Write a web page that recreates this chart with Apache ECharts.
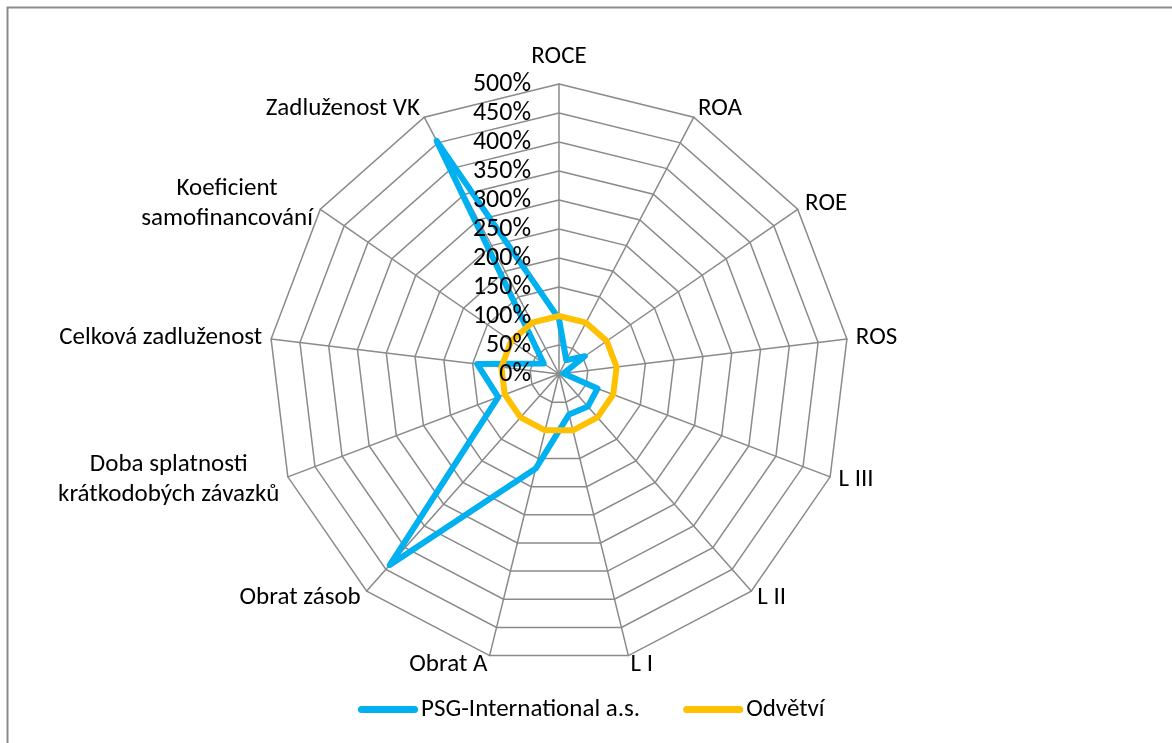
<!DOCTYPE html>
<html>
<head>
<meta charset="utf-8">
<script src="https://cdn.jsdelivr.net/npm/echarts@6/dist/echarts.min.js"></script>
<style>
  html, body { margin: 0; padding: 0; background: #ffffff; }
  #chart { width: 1172px; height: 743px; }
</style>
</head>
<body>
<div id="chart"></div>
<script>
// Financial ratio profile: company vs. industry (values in %)
const indicators = [
  'ROCE', 'ROA', 'ROE', 'ROS', 'L III', 'L II', 'L I', 'Obrat A', 'Obrat zásob',
  'Doba splatnosti\nkrátkodobých závazků', 'Celková zadluženost',
  'Koeficient\nsamofinancování', 'Zadluženost VK'
];
const psgValues = [95, 27, 54, 8, 71, 75, 72, 168, 440, 112, 142, 32, 454];
const industryValues = [100, 100, 100, 100, 100, 100, 100, 100, 100, 100, 100, 100, 100];
const seriesNames = ['PSG-International a.s.', 'Odvětví'];
const axisMin = 0;
const axisMax = 500;
const axisStep = 50;

const FONT = 'Carlito, "Open Sans", Lato, sans-serif';
const FS = 25;
const GRID = '#8a8a8a';
const CENTER = [559, 374];
const RADIUS = 290;

// ECharts lays radar indicators out counter-clockwise; walk the list
// backwards (keeping the first one on top) so it reads clockwise.
const order = [0];
for (let i = indicators.length - 1; i > 0; i--) order.push(i);
const pick = arr => order.map(i => arr[i]);

const chart = echarts.init(document.getElementById('chart'), null, { renderer: 'canvas' });

chart.setOption({
  backgroundColor: '#ffffff',
  animation: false,
  graphic: [{
    type: 'rect',
    shape: { x: 7.5, y: 7.5, width: 1300, height: 900 },
    style: { fill: 'none', stroke: '#8c8c8c', lineWidth: 2 },
    silent: true
  }],
  legend: {
    data: seriesNames,
    left: 353,
    top: 692,
    itemWidth: 60,
    itemHeight: 7,
    itemGap: 43,
    icon: 'path://M3.5,0 H56.5 A3.5,3.5 0 0 1 56.5,7 H3.5 A3.5,3.5 0 0 1 3.5,0 Z',
    textStyle: { fontFamily: FONT, fontSize: FS, color: '#000000', padding: [0, 0, 0, -2] }
  },
  radar: {
    center: CENTER,
    radius: RADIUS,
    startAngle: 90,
    shape: 'polygon',
    splitNumber: (axisMax - axisMin) / axisStep,
    indicator: pick(indicators).map(name => ({ name: name, min: axisMin, max: axisMax })),
    axisName: {
      color: '#000000',
      fontFamily: FONT,
      fontSize: FS,
      lineHeight: 30,
      formatter: function (value) {
        if (value === 'ROCE') return '{top|' + value + '}';
        return value.split('\n').map(s => '{c|' + s + '}').join('\n');
      },
      rich: {
        c: { align: 'center', fontFamily: FONT, fontSize: FS, lineHeight: 30, color: '#000000' },
        top: { fontFamily: FONT, fontSize: FS, lineHeight: 30, color: '#000000', padding: [0, 0, 6, 0] }
      }
    },
    nameGap: 9,
    axisLine: { lineStyle: { color: GRID, width: 1.5 } },
    splitLine: { lineStyle: { color: GRID, width: 1.5 } },
    splitArea: { show: false },
    axisTick: { show: false },
    axisLabel: { show: false }
  },
  // Percent scale shown along the top axis
  polar: { center: CENTER, radius: RADIUS },
  angleAxis: { type: 'value', min: 0, max: 360, startAngle: 90, show: false },
  radiusAxis: {
    type: 'value',
    min: axisMin,
    max: axisMax,
    interval: axisStep,
    z: 20,
    axisLine: { show: false },
    axisTick: { show: false },
    splitLine: { show: false },
    axisLabel: {
      margin: 28,
      fontFamily: FONT,
      fontSize: 26,
      color: '#000000',
      formatter: '{value}%'
    }
  },
  series: [{
    type: 'radar',
    symbol: 'none',
    data: [
      {
        name: seriesNames[0],
        value: pick(psgValues),
        lineStyle: { color: '#00b0f0', width: 6, cap: 'round', join: 'round' },
        itemStyle: { color: '#00b0f0' }
      },
      {
        name: seriesNames[1],
        value: pick(industryValues),
        lineStyle: { color: '#ffc000', width: 6, cap: 'round', join: 'round' },
        itemStyle: { color: '#ffc000' }
      }
    ]
  }]
});
</script>
</body>
</html>
